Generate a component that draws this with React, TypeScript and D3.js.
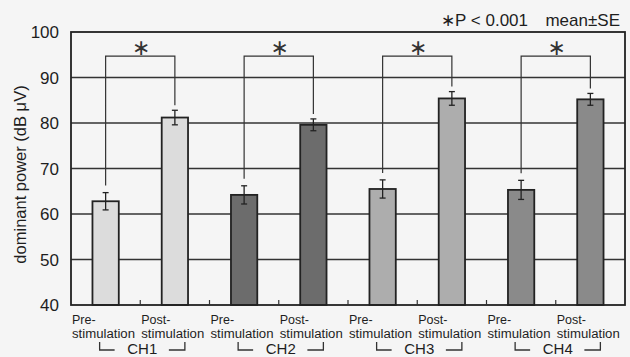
import React, { useEffect, useRef } from "react";
import * as d3 from "d3";

const channels = ["CH1", "CH2", "CH3", "CH4"];
const phases = ["Pre-", "Post-"];
const preMean = [62.8, 64.2, 65.5, 65.3];
const preSE = [1.9, 2.0, 2.0, 2.1];
const postMean = [81.2, 79.6, 85.4, 85.2];
const postSE = [1.6, 1.3, 1.5, 1.3];
const sigLevel = [94.7, 94.7, 94.7, 94.7];
const yTicks = [40, 50, 60, 70, 80, 90, 100];
const channelFill = ["#dcdcdc", "#6c6c6c", "#adadad", "#8a8a8a"];

const W = 630;
const H = 357;
const margin = { top: 32, right: 5, bottom: 52, left: 71 };
const font = "'Liberation Sans', Arial, sans-serif";
const ink = "#1e1e1e";

export default function App() {
  const ref = useRef<SVGSVGElement>(null);

  useEffect(() => {
    const svg = d3.select(ref.current);
    svg.selectAll("*").remove();

    const bars = channels.flatMap((ch, i) => [
      { key: ch + "-pre", ch, i, phase: 0, mean: preMean[i], se: preSE[i] },
      { key: ch + "-post", ch, i, phase: 1, mean: postMean[i], se: postSE[i] },
    ]);

    const x = d3
      .scaleBand<string>()
      .domain(bars.map((b) => b.key))
      .range([margin.left, W - margin.right])
      .paddingInner(0.62)
      .paddingOuter(0.31);

    const y = d3
      .scaleLinear()
      .domain([40, 100])
      .range([H - margin.bottom, margin.top]);

    const step = x.step();
    const left0 = margin.left;
    const right0 = W - margin.right;
    const bottom = y(40);

    svg
      .append("rect")
      .attr("width", W)
      .attr("height", H)
      .attr("fill", "#f5f5f5");

    // grid
    svg
      .append("g")
      .selectAll("line")
      .data(yTicks.slice(1, -1))
      .join("line")
      .attr("x1", left0)
      .attr("x2", right0)
      .attr("y1", (d) => y(d))
      .attr("y2", (d) => y(d))
      .attr("stroke", "#333")
      .attr("stroke-width", 1.3);

    // bars
    svg
      .append("g")
      .selectAll("rect")
      .data(bars)
      .join("rect")
      .attr("x", (d) => x(d.key)!)
      .attr("y", (d) => y(d.mean))
      .attr("width", x.bandwidth())
      .attr("height", (d) => bottom - y(d.mean))
      .attr("fill", (d) => channelFill[d.i])
      .attr("stroke", "#222")
      .attr("stroke-width", 1.8);

    // error bars
    const eb = svg.append("g").attr("stroke", "#222").attr("stroke-width", 1.3);
    bars.forEach((d) => {
      const cx = x(d.key)! + x.bandwidth() / 2;
      eb.append("line")
        .attr("x1", cx)
        .attr("x2", cx)
        .attr("y1", y(d.mean + d.se))
        .attr("y2", y(d.mean - d.se));
      [d.mean + d.se, d.mean - d.se].forEach((v) =>
        eb
          .append("line")
          .attr("x1", cx - 3)
          .attr("x2", cx + 3)
          .attr("y1", y(v))
          .attr("y2", y(v))
      );
    });

    // plot frame
    svg
      .append("rect")
      .attr("x", left0)
      .attr("y", margin.top)
      .attr("width", right0 - left0)
      .attr("height", bottom - margin.top)
      .attr("fill", "none")
      .attr("stroke", "#222")
      .attr("stroke-width", 1.8);

    // category boundary ticks
    svg
      .append("g")
      .selectAll("line")
      .data(d3.range(1, bars.length))
      .join("line")
      .attr("x1", (k) => left0 + k * step)
      .attr("x2", (k) => left0 + k * step)
      .attr("y1", bottom)
      .attr("y2", bottom - 5)
      .attr("stroke", "#333")
      .attr("stroke-width", 1.2);

    // significance brackets
    const sig = svg.append("g");
    channels.forEach((ch, i) => {
      const xa = x(ch + "-pre")! + x.bandwidth() / 2;
      const xb = x(ch + "-post")! + x.bandwidth() / 2;
      const yt = y(sigLevel[i]);
      const ya = y(preMean[i] + preSE[i]) - 7;
      const yb = y(postMean[i] + postSE[i]) - 5;
      sig
        .append("path")
        .attr("d", `M${xa},${ya}V${yt}H${xb}V${yb}`)
        .attr("fill", "none")
        .attr("stroke", "#333")
        .attr("stroke-width", 1.2);
      sig
        .append("text")
        .attr("x", (xa + xb) / 2 + 1)
        .attr("y", yt - 1)
        .attr("text-anchor", "middle")
        .attr("font-family", "'DejaVu Sans', sans-serif")
        .attr("font-size", 22)
        .attr("fill", "#333")
        .text("∗");
    });

    // y axis labels
    svg
      .append("g")
      .selectAll("text")
      .data(yTicks)
      .join("text")
      .attr("x", left0 - 12)
      .attr("y", (d) => y(d))
      .attr("dy", "0.36em")
      .attr("text-anchor", "end")
      .attr("font-family", font)
      .attr("font-size", 17)
      .attr("fill", ink)
      .text((d) => d);

    svg
      .append("text")
      .attr("transform", `translate(26,${(margin.top + bottom) / 2 + 6}) rotate(-90)`)
      .attr("text-anchor", "middle")
      .attr("font-family", font)
      .attr("font-size", 16.5)
      .attr("fill", ink)
      .text("dominant power (dB μV)");

    // x labels
    const xl = svg.append("g").attr("font-family", font).attr("font-size", 12.5).attr("fill", ink);
    bars.forEach((d, k) => {
      const lx = left0 + k * step + 1;
      xl.append("text").attr("x", lx).attr("y", bottom + 19).text(phases[d.phase]);
      xl.append("text")
        .attr("x", lx)
        .attr("y", bottom + 33)
        .attr("textLength", 63)
        .attr("lengthAdjust", "spacingAndGlyphs")
        .text("stimulation");
    });

    // channel group labels
    channels.forEach((ch, i) => {
      const xa = x(ch + "-pre")! + x.bandwidth() / 2 - 6;
      const xb = x(ch + "-post")! + x.bandwidth() / 2 + 10;
      const cx = (xa + xb) / 2;
      const yb = bottom + 45;
      svg
        .append("path")
        .attr("d", `M${xa},${yb - 8}V${yb}H${xa + 15}M${xb - 16},${yb}H${xb}V${yb - 8}`)
        .attr("fill", "none")
        .attr("stroke", "#333")
        .attr("stroke-width", 1.3);
      svg
        .append("text")
        .attr("x", cx)
        .attr("y", yb + 4)
        .attr("text-anchor", "middle")
        .attr("font-family", font)
        .attr("font-size", 15)
        .attr("fill", ink)
        .text(ch);
    });

    // note
    const note = svg
      .append("g")
      .attr("font-family", font)
      .attr("font-size", 17)
      .attr("fill", ink);
    note.append("text").attr("x", 620).attr("y", 26).attr("text-anchor", "end").text("mean±SE");
    note.append("text").attr("x", 528).attr("y", 26).attr("text-anchor", "end").text("∗P < 0.001");
  }, []);

  return (
    <svg
      ref={ref}
      width={W}
      height={H}
      style={{ position: "absolute", left: 0, top: 0 }}
    />
  );
}
